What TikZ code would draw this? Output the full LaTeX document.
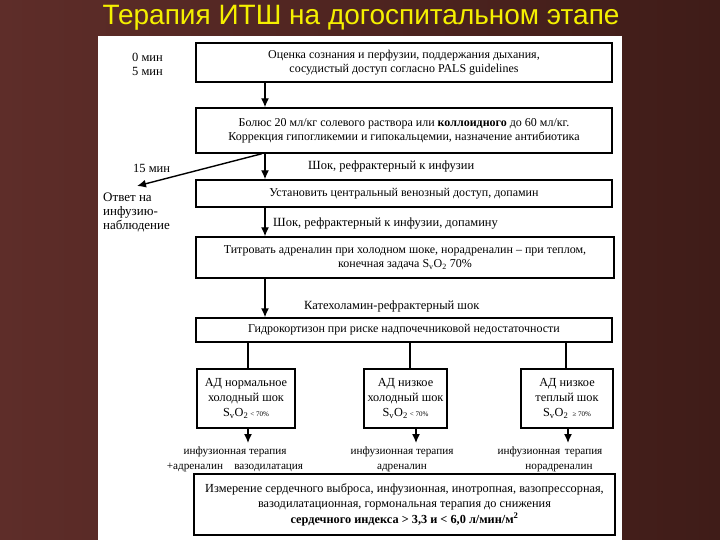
\documentclass[tikz,border=0pt]{standalone}
\usepackage{fontspec}
\setmainfont{Liberation Serif}
\newfontfamily\titlefont{Liberation Sans}
\usetikzlibrary{arrows,arrows.meta}
\definecolor{bgleft}{HTML}{5E2D29}
\definecolor{bgright}{HTML}{3F1C18}
\definecolor{titleyellow}{HTML}{F4F000}

\begin{document}
\begin{tikzpicture}[x=1pt,y=-1pt,
  box/.style={draw,line width=1.4pt,fill=white,align=center,inner sep=1pt,
    font=\fontsize{12}{14}\selectfont},
  tribox/.style={box,minimum height=59pt,font=\fontsize{12.3}{15}\selectfont},
  lbl/.style={align=center,font=\fontsize{11.2}{15}\selectfont},
  side/.style={align=left,font=\fontsize{12.5}{14}\selectfont,inner sep=0pt},
  flow/.style={line width=1.4pt,-{Latex[length=9pt,width=8pt]}},
  link/.style={line width=1.4pt}]
\useasboundingbox (0,0) rectangle (720,540);
\shade[left color=bgleft,right color=bgright] (0,0) rectangle (720,540);
\fill[white] (98,36) rectangle (622,540);
\node[font=\titlefont\fontsize{28}{30}\selectfont,text=titleyellow] (title) at (361,18) {Терапия ИТШ на догоспитальном этапе};

% main column
\node[box,minimum width=416pt,minimum height=39pt] (ocenka) at (404,62.5) {Оценка сознания и перфузии, поддержания дыхания,\\сосудистый доступ согласно PALS guidelines};
\node[box,minimum width=416pt,minimum height=45pt] (bolus) at (404,130.5) {Болюс 20 мл/кг солевого раствора или \textbf{коллоидного} до 60 мл/кг.\\Коррекция гипогликемии и гипокальцемии, назначение антибиотика};
\node[box,minimum width=416pt,minimum height=27pt] (dostup) at (404,193.5) {Установить центральный венозный доступ, допамин};
\node[box,minimum width=418pt,minimum height=41pt] (titr) at (405,257.5) {Титровать адреналин при холодном шоке, норадреналин -- при теплом,\\конечная задача S\textsubscript{v}O\textsubscript{2} 70\%};
\node[box,minimum width=416pt,minimum height=24pt] (gidro) at (404,330) {Гидрокортизон при риске надпочечниковой недостаточности};

% three branches
\node[tribox,minimum width=98pt] (normcold) at (246,398.5) {АД нормальное\\холодный шок\\S\textsubscript{v}O\textsubscript{2}\,{\fontsize{7}{8}\selectfont< 70\%}};
\node[tribox,minimum width=83pt] (lowcold) at (405.5,398.5) {АД низкое\\холодный шок\\S\textsubscript{v}O\textsubscript{2}\,{\fontsize{7}{8}\selectfont< 70\%}};
\node[tribox,minimum width=92pt] (lowwarm) at (567,398.5) {АД низкое\\теплый шок\\S\textsubscript{v}O\textsubscript{2}\,\,{\fontsize{7}{8}\selectfont≥ 70\%}};

\node[lbl,anchor=north] (thnorm) at (235,443) {инфузионная терапия\\+адреналин\quad вазодилатация};
\node[lbl,anchor=north] (thlow) at (402,443) {инфузионная терапия\\адреналин};
\node[lbl,anchor=north] (thwarm) at (550,443) {инфузионная\, терапия\\\hspace*{18pt}норадреналин};

\node[box,minimum width=421pt,minimum height=61pt,font=\fontsize{12.3}{15.5}\selectfont] (izmer) at (404.5,504.5) {Измерение сердечного выброса, инфузионная, инотропная, вазопрессорная,\\вазодилатационная, гормональная терапия до снижения\\\textbf{сердечного индекса > 3,3 и < 6,0 л/мин/м\textsuperscript{2}}};

% side notes
\node[side,anchor=west] (min0) at (132,57) {0 мин};
\node[side,anchor=west] (min5) at (132,71) {5 мин};
\node[side,anchor=west] (min15) at (133,168) {15 мин};
\node[side,anchor=north west,font=\fontsize{13}{14}\selectfont] (otvet) at (103,193) {Ответ на\\инфузию-\\наблюдение};
\coordinate (spine) at (265,0);
\coordinate (tip) at (137,186);

% connectors
\draw[flow] (ocenka.south -| spine) -- (bolus.north -| spine);
\draw[flow] (bolus.south -| spine) -- (dostup.north -| spine);
\draw[flow] (dostup.south -| spine) -- (titr.north -| spine);
\draw[flow] (titr.south -| spine) -- (gidro.north -| spine);
\draw[flow] ([xshift=-3pt]bolus.south -| spine) -- (tip);
\draw[link] (gidro.south -| 248,0) -- (normcold.north -| 248,0);
\draw[link] (gidro.south -| 410,0) -- (lowcold.north -| 410,0);
\draw[link] (gidro.south -| 566,0) -- (lowwarm.north -| 566,0);
\draw[flow] (normcold.south -| 248,0) -- (thnorm.north -| 248,0);
\draw[flow] (lowcold.south -| 416,0) -- (thlow.north -| 416,0);
\draw[flow] (lowwarm.south -| 568,0) -- (thwarm.north -| 568,0);

\node[side,anchor=west] (refr1) at (308,167) {Шок, рефрактерный к инфузии};
\node[side,anchor=west] (refr2) at (273,224) {Шок, рефрактерный к инфузии, допамину};
\node[side,anchor=west] (katex) at (304,306) {Катехоламин-рефрактерный шок};
\end{tikzpicture}
\end{document}
